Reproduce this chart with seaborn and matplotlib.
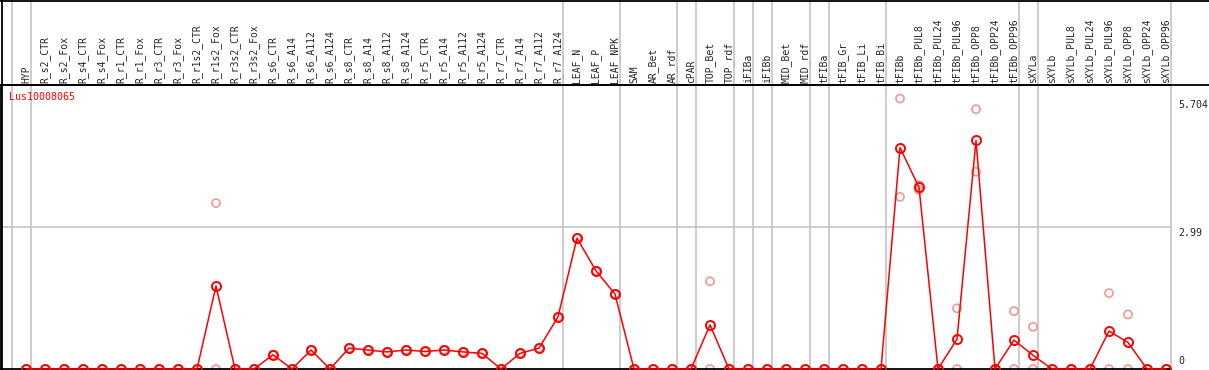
import matplotlib
matplotlib.use("Agg")
import matplotlib.pyplot as plt
import matplotlib.transforms as mtransforms
import seaborn as sns
import pandas as pd

# sample / tissue columns shown across the top
samples = ["HYP", "R_s2_CTR", "R_s2_Fox", "R_s4_CTR", "R_s4_Fox", "R_r1_CTR", "R_r1_Fox",
           "R_r3_CTR", "R_r3_Fox", "R_r1s2_CTR", "R_r1s2_Fox", "R_r3s2_CTR", "R_r3s2_Fox",
           "R_s6_CTR", "R_s6_A14", "R_s6_A112", "R_s6_A124", "R_s8_CTR", "R_s8_A14",
           "R_s8_A112", "R_s8_A124", "R_r5_CTR", "R_r5_A14", "R_r5_A112", "R_r5_A124",
           "R_r7_CTR", "R_r7_A14", "R_r7_A112", "R_r7_A124", "LEAF_N", "LEAF_P", "LEAF_NPK",
           "SAM", "AR_Bet", "AR_rdf", "cPAR", "TOP_Bet", "TOP_rdf", "iFIBa", "iFIBb",
           "MID_Bet", "MID_rdf", "tFIBa", "tFIB_Gr", "tFIB_Li", "tFIB_Bi", "tFIBb",
           "tFIBb_PUL8", "tFIBb_PUL24", "tFIBb_PUL96", "tFIBb_OPP8", "tFIBb_OPP24",
           "tFIBb_OPP96", "sXYLa", "sXYLb", "sXYLb_PUL8", "sXYLb_PUL24", "sXYLb_PUL96",
           "sXYLb_OPP8", "sXYLb_OPP24", "sXYLb_OPP96"]

# mean expression per sample
mean_expr = [0, 0, 0, 0, 0, 0, 0, 0, 0, 0, 1.75, 0, 0, 0.30, 0, 0.40, 0, 0.44, 0.40,
             0.36, 0.40, 0.37, 0.40, 0.36, 0.33, 0, 0.33, 0.44, 1.10, 2.76, 2.07, 1.58,
             0, 0, 0, 0, 0.93, 0, 0, 0, 0, 0, 0, 0, 0, 0, 4.67,
             3.83, 0, 0.63, 4.82, 0, 0.61, 0.29, 0, 0, 0, 0.80, 0.56, 0, 0]

# individual replicates
rep1 = [0, 0, 0, 0, 0, 0, 0, 0, 0, 0, 3.50, 0, 0, 0.30, 0, 0.40, 0, 0.44, 0.40,
        0.36, 0.40, 0.37, 0.40, 0.36, 0.33, 0, 0.33, 0.44, 1.10, 2.76, 2.07, 1.58,
        0, 0, 0, 0, 1.85, 0, 0, 0, 0, 0, 0, 0, 0, 0, 5.704,
        3.88, 0, 1.28, 5.48, 0, 1.22, 0.89, 0, 0, 0, 1.60, 1.15, 0, 0]
rep2 = [0, 0, 0, 0, 0, 0, 0, 0, 0, 0, 0, 0, 0, 0.30, 0, 0.40, 0, 0.44, 0.40,
        0.36, 0.40, 0.37, 0.40, 0.36, 0.33, 0, 0.33, 0.44, 1.10, 2.76, 2.07, 1.58,
        0, 0, 0, 0, 0, 0, 0, 0, 0, 0, 0, 0, 0, 0, 3.63,
        3.78, 0, 0, 4.16, 0, 0, 0, 0, 0, 0, 0, 0, 0, 0]

# last sample index of each group (gray separators)
group_ends = [-1, 0, 28, 31, 34, 35, 37, 38, 39, 41, 42, 45, 52, 53, 60]
y_ticks = [0, 2.99, 5.704]
y_ticklabels = ["0", "2.99", "5.704"]
gene = "Lus10008065"

sns.set_style("white")
plt.rcParams["font.family"] = ["DejaVu Sans Mono", "DejaVu Sans"]

W, H = 1209, 370
fig = plt.figure(figsize=(W / 100, H / 100), dpi=100)
# plot area: x 1..1170 px, y 85..369 px
ax = fig.add_axes([1 / W, 1 / H, 1169 / W, 284 / H])

x = list(range(len(samples)))
df = pd.DataFrame({"x": x, "mean": mean_expr})
reps = pd.DataFrame({"x": x + x, "val": rep1 + rep2})

gray = "#c4c4c4"
# separators through header and plot
trans = mtransforms.blended_transform_factory(ax.transData, ax.transAxes)
for g in group_ends:
    ax.plot([g + 0.24, g + 0.24], [0, 369 / 284], color=gray, lw=1.2,
            transform=trans, clip_on=False, zorder=1)
ax.axhline(2.99, color=gray, lw=1.2, zorder=1)

sns.scatterplot(data=reps, x="x", y="val", ax=ax, marker="o", s=34,
                facecolors="none", edgecolor="#f09898", linewidth=1.2,
                clip_on=False, zorder=2)
sns.lineplot(data=df, x="x", y="mean", ax=ax, color="#ff0000", lw=1.1,
             marker="o", markersize=6.5, markerfacecolor="none",
             markeredgecolor="#ff0000", markeredgewidth=1.4,
             clip_on=False, zorder=3)

ax.set_xlim(-25 / 19, 1144 / 19)
ax.set_ylim(0, 5.99)
ax.set_xlabel("")
ax.set_ylabel("")

ax.xaxis.tick_top()
ax.set_xticks(x)
ax.set_xticklabels(samples, rotation=90, fontsize=7)
ax.tick_params(axis="x", length=0, pad=1.5)

# scale labels at the right edge
ax.set_yticks([])
ytrans = mtransforms.blended_transform_factory(ax.transAxes, ax.transData)
for val, lab in zip(y_ticks, y_ticklabels):
    va = "bottom" if val == 0 else "top"
    off = 0.06 if val == 0 else -0.02
    ax.text(1177 / 1169, val + off, lab, fontsize=7.2, ha="left", va=va,
            transform=ytrans, clip_on=False)

ax.spines["right"].set_visible(False)
for side in ["left", "bottom", "top"]:
    ax.spines[side].set_color("black")
    ax.spines[side].set_linewidth(1.3)

ax.text(8 / 1169, (369 - 97) / 284, gene, color="#ff0000", fontsize=7.2,
        ha="left", va="center", transform=ax.transAxes)

# outer frame lines of the header
fig.add_artist(plt.Line2D([0, 1], [1 - 0.5 / H, 1 - 0.5 / H], color="black", lw=1.3))
fig.add_artist(plt.Line2D([0, 1], [1 - 85 / H, 1 - 85 / H], color="black", lw=1.3))
fig.add_artist(plt.Line2D([1.5 / W, 1.5 / W], [0, 1], color="black", lw=1.3))

fig.savefig("out.png", dpi=100)
